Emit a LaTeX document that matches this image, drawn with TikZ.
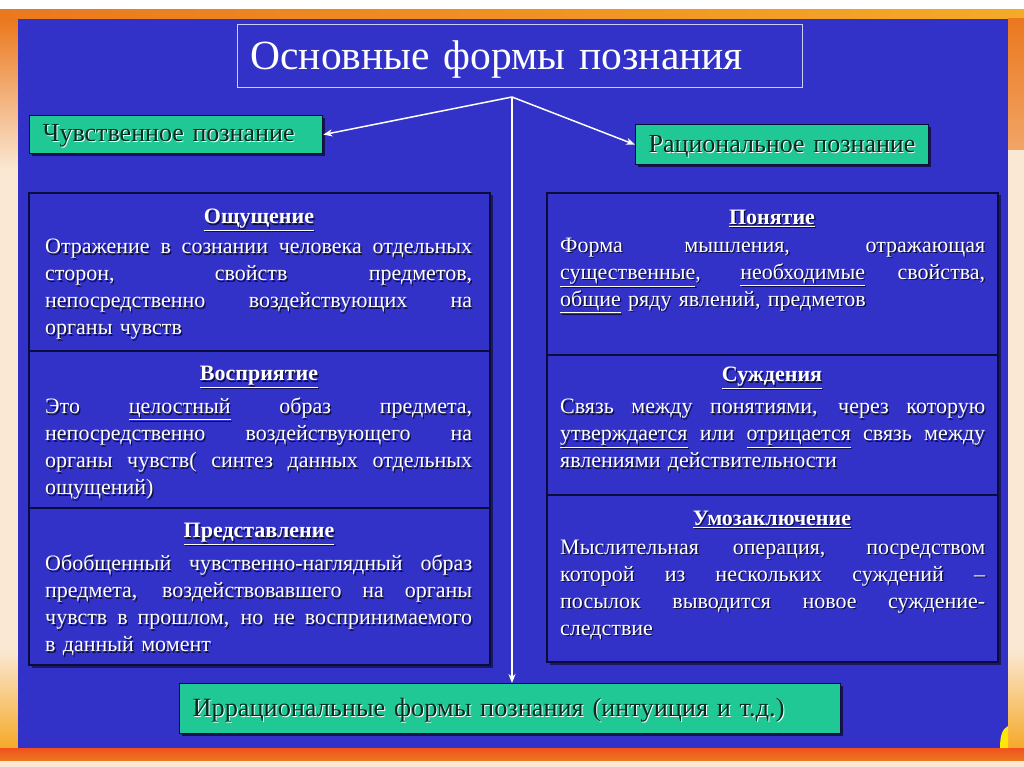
\documentclass[tikz,border=0pt]{standalone}
\usepackage{fontspec}
\setmainfont{Liberation Serif}
\usetikzlibrary{arrows.meta,shadows}
\definecolor{bgblue}{RGB}{50,50,200}
\definecolor{tabline}{RGB}{12,12,60}
\definecolor{teal2}{RGB}{32,200,150}
\definecolor{tealtext}{RGB}{0,45,30}
\definecolor{peach}{RGB}{250,232,212}
\definecolor{orangeA}{RGB}{235,120,30}
\definecolor{orangeB}{RGB}{245,170,40}
\definecolor{redorange}{RGB}{240,80,30}
\definecolor{titleline}{RGB}{205,205,250}
\definecolor{shadowtxt}{RGB}{15,15,70}
\newcommand\jl[1]{\leavevmode\hbox to 427pt{\spaceskip=0.25em plus 1fil\relax #1}}
\newcommand\jr[1]{\leavevmode\hbox to 425pt{\spaceskip=0.25em plus 1fil\relax #1}}
\newcommand\emb[1]{\rlap{\kern1pt\raisebox{-1pt}{\color{white}#1}}#1}
\newcommand\dropby[2]{\raisebox{-#1}[\height][\depth]{#2}}
\newcommand\shnode[4]{%
  \node[#1,text=shadowtxt,xshift=1.3pt,yshift=-1.3pt] at #3 {#4};
  \node[#1] (#2) at #3 {#4};}
\tikzset{
  tealbox/.style={draw=tabline, line width=1.3pt, fill=teal2, text=tealtext,
    inner xsep=13pt, align=left, anchor=north west,
    drop shadow={shadow xshift=2pt, shadow yshift=-2pt, opacity=0.6, fill=black}},
  table/.style={draw=tabline, line width=2.6pt, fill=bgblue,
    drop shadow={shadow xshift=2.5pt, shadow yshift=-2.5pt, opacity=0.5, fill=black}},
  divider/.style={draw=tabline, line width=1.2pt},
  head/.style={text=white, font=\fontsize{22}{24}\selectfont\bfseries, inner sep=0pt},
  bodyL/.style={text=white, font=\fontsize{22}{27}\selectfont, inner sep=0pt,
    anchor=north west, text width=427pt, align=left},
  bodyR/.style={bodyL, text width=425pt},
  link/.style={draw=white, line width=1.5pt, -{Stealth[length=9pt,width=7pt]}},
}
\begin{document}
\begin{tikzpicture}[x=1pt,y=-1pt]
\useasboundingbox (0,0) rectangle (1024,767);
% background frame
\fill[peach] (0,0) rectangle (1024,767);
\fill[white] (0,0) rectangle (1024,10);
\shade[left color=orangeA, right color=orangeB] (0,10) rectangle (1024,19);
\shade[top color=orangeA, bottom color=peach] (0,19) rectangle (18,170);
\shade[top color=peach, bottom color=orangeB] (0,650) rectangle (18,748);
\shade[top color=orangeA, bottom color=orangeA!60!peach] (1008,19) rectangle (1024,150);
\shade[top color=peach, bottom color=orangeB] (1008,650) rectangle (1024,748);
\shade[top color=redorange, bottom color=orangeA] (0,748) rectangle (1024,760);
\fill[bgblue] (18,19) rectangle (1008,748);
\fill[yellow!90!orange] (1008,726) .. controls (1002,729) and (1000,736) .. (1000,748) -- (1008,748) -- cycle;

% title
\node[draw=titleline, line width=1pt, text=white, font=\fontsize{41.5}{46}\selectfont,
  text width=539pt, inner xsep=13pt, minimum height=63pt, align=left, anchor=north west]
  (title) at (237,24) {\dropby{4pt}{Основные формы познания}};

% teal boxes
\node[tealbox, font=\fontsize{26}{28}\selectfont, text width=267pt, minimum height=38pt]
  (sens) at (29,115) {\dropby{2pt}{\emb{Чувственное познание}}};
\node[tealbox, font=\fontsize{26}{28}\selectfont, text width=267pt, minimum height=40pt]
  (rat) at (635,124) {\dropby{2pt}{\emb{Рациональное познание}}};
\node[tealbox, font=\fontsize{26.3}{30}\selectfont, text width=635pt, minimum height=50pt]
  (irr) at (179,683) {\dropby{2pt}{\emb{Иррациональные формы познания (интуиция и т.д.)}}};

% connectors
\coordinate (fork) at (512,97);
\draw[link] (fork) -- (sens.east);
\draw[link] (fork) -- (rat.west);
\draw[link, line width=2.4pt] (fork) -- (fork |- irr.north);

% left table
\draw[table] (29,193) rectangle (490,665);
\draw[divider] (29,351) -- (490,351);
\draw[divider] (29,508) -- (490,508);
\shnode{head}{h1}{(259,220)}{\underline{Ощущение}}
\shnode{bodyL}{t1}{(45,239)}{\jl{Отражение в сознании человека отдельных}\\
\jl{сторон, свойств предметов,}\\
\jl{непосредственно воздействующих на}\\
органы чувств}
\shnode{head}{h2}{(259,377)}{\underline{Восприятие}}
\shnode{bodyL}{t2}{(45,398)}{\jl{Это \underline{целостный} образ предмета,}\\
\jl{непосредственно воздействующего на}\\
\jl{органы чувств( синтез данных отдельных}\\
ощущений)}
\shnode{head}{h3}{(259,534)}{\underline{Представление}}
\shnode{bodyL}{t3}{(45,555)}{\jl{Обобщенный чувственно-наглядный образ}\\
\jl{предмета, воздействовавшего на органы}\\
\jl{чувств в прошлом, но не воспринимаемого}\\
в данный момент}

% right table
\draw[table] (547,193) rectangle (998,662);
\draw[divider] (547,355) -- (998,355);
\draw[divider] (547,495) -- (998,495);
\shnode{head}{h4}{(772,218)}{\underline{Понятие}}
\shnode{bodyR}{t4}{(560,238)}{\jr{Форма мышления, отражающая}\\
\jr{\underline{существенные}, \underline{необходимые} свойства,}\\
\underline{общие} ряду явлений, предметов}
\shnode{head}{h5}{(772,378)}{\underline{Суждения}}
\shnode{bodyR}{t5}{(560,399)}{\jr{Связь между понятиями, через которую}\\
\jr{\underline{утверждается} или \underline{отрицается} связь между}\\
явлениями действительности}
\shnode{head}{h6}{(772,519)}{\underline{Умозаключение}}
\shnode{bodyR}{t6}{(560,540)}{\jr{Мыслительная операция, посредством}\\
\jr{которой из нескольких суждений –}\\
\jr{посылок выводится новое суждение-}\\
следствие}
\end{tikzpicture}
\end{document}
